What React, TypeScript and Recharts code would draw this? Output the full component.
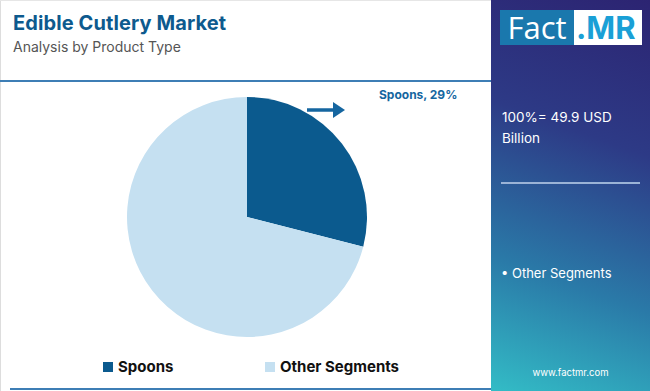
import { PieChart, Pie, Cell, Legend } from "recharts";

const segments = ["Spoons", "Other Segments"];
const shares = [29, 71];
const colors = ["#0b5a8e", "#c5e0f1"];

const data = segments.map((name, i) => ({ name, value: shares[i] }));

const FONT = "Inter, 'Open Sans', sans-serif";

const renderLabel = (props: any) => {
  const { cx, cy, outerRadius, index, name, value } = props;
  if (index !== 0) return null;
  const y = cy - outerRadius + 13;
  const x0 = cx + 60;
  return (
    <g>
      <line x1={x0} y1={y} x2={x0 + 28} y2={y} stroke="#1566a0" strokeWidth={3.5} />
      <polygon
        points={`${x0 + 26},${y - 8} ${x0 + 38},${y} ${x0 + 26},${y + 8}`}
        fill="#1566a0"
      />
      <text
        x={x0 + 72}
        y={y - 11}
        fill="#1566a0"
        fontSize={12}
        fontWeight={700}
        fontFamily={FONT}
      >
        {`${name}, ${value}%`}
      </text>
    </g>
  );
};

const renderLegend = () => (
  <div style={{ display: "flex", fontFamily: FONT, fontWeight: 700, fontSize: 15, color: "#111" }}>
    {data.map((d, i) => (
      <div
        key={d.name}
        style={{ display: "flex", alignItems: "center", marginLeft: i === 0 ? 103 : 0, width: i === 0 ? 162 : "auto" }}
      >
        <span style={{ display: "inline-block", width: 10, height: 10, background: colors[i], marginRight: 5 }} />
        {d.name}
      </div>
    ))}
  </div>
);

export default function App() {
  return (
    <div
      style={{
        position: "absolute",
        left: 0,
        top: 0,
        width: 650,
        height: 391,
        background: "#fff",
        overflow: "hidden",
        fontFamily: FONT,
      }}
    >
      <div style={{ position: "absolute", left: 0, top: 0, width: 1, height: 391, background: "#ddd" }} />
      <div style={{ position: "absolute", left: 0, top: 0, width: 650, height: 1, background: "#e6e6e6" }} />
      <div style={{ position: "absolute", left: 13, top: 11, fontSize: 20, fontWeight: 700, color: "#0d5a8e", letterSpacing: 0.1 }}>
        Edible Cutlery Market
      </div>
      <div style={{ position: "absolute", left: 13, top: 38, fontSize: 14, color: "#555" }}>
        Analysis by Product Type
      </div>
      <div style={{ position: "absolute", left: 0, top: 80, width: 495, height: 2, background: "#3d7eb5" }} />
      <div style={{ position: "absolute", left: 10, top: 388, width: 490, height: 2, background: "#3d7eb5" }} />

      <div style={{ position: "absolute", left: 0, top: 0 }}>
        <PieChart width={490} height={391} margin={{ top: 0, right: 0, bottom: 0, left: 0 }}>
          <Pie
            data={data}
            dataKey="value"
            nameKey="name"
            cx={247}
            cy={217}
            outerRadius={120}
            startAngle={90}
            endAngle={-270}
            stroke="none"
            label={renderLabel}
            labelLine={false}
            isAnimationActive={false}
          >
            {data.map((d, i) => (
              <Cell key={d.name} fill={colors[i]} />
            ))}
          </Pie>
          <Legend
            content={renderLegend}
            wrapperStyle={{ position: "absolute", left: 0, top: 357, width: 490 }}
          />
        </PieChart>
      </div>

      <div
        style={{
          position: "absolute",
          left: 491,
          top: 0,
          width: 159,
          height: 391,
          background:
            "linear-gradient(200deg, #2c2472 0%, #2d3a86 35%, #2a7aa8 70%, #33bcc6 100%)",
          color: "#fff",
        }}
      >
        <div
          style={{
            position: "absolute",
            left: 9,
            top: 10,
            width: 142,
            height: 35,
            background: "#fff",
            display: "flex",
            alignItems: "center",
          }}
        >
          <div
            style={{
              width: 74,
              height: 35,
              background: "#1a78ad",
              color: "#fff",
              fontSize: 31,
              lineHeight: "35px",
              textAlign: "center",
              fontFamily: "'Open Sans', sans-serif",
            }}
          >
            Fact
          </div>
          <div style={{ color: "#1aa0d6", fontSize: 31, fontWeight: 700, marginLeft: 2, fontFamily: FONT }}>
            .MR
          </div>
        </div>
        <div style={{ position: "absolute", left: 11, top: 107, fontSize: 13.5, lineHeight: "21px" }}>
          100%= 49.9 USD
          <br />
          Billion
        </div>
        <div style={{ position: "absolute", left: 10, top: 182, width: 139, height: 2, background: "#9bb3d6" }} />
        <div style={{ position: "absolute", left: 10, top: 265, fontSize: 13 }}>• Other Segments</div>
        <div style={{ position: "absolute", left: 0, top: 367, width: 159, textAlign: "center", fontSize: 9.5 }}>
          www.factmr.com
        </div>
      </div>
    </div>
  );
}
